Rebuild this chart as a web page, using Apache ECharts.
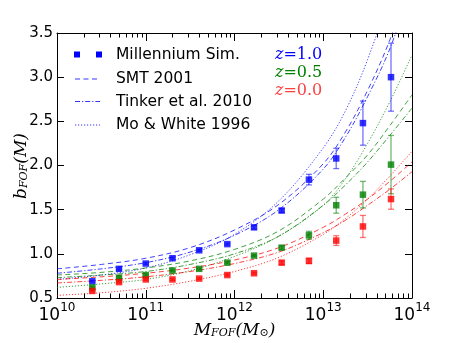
<!DOCTYPE html>
<html>
<head>
<meta charset="UTF-8">
<title>bias vs FOF mass</title>
<script src="https://cdn.jsdelivr.net/npm/echarts@6/dist/echarts.min.js"></script>
<style>
  html, body { margin: 0; padding: 0; background: #fff; }
  #chart { width: 458px; height: 343px; }
</style>
</head>
<body>
<div id="chart"></div>
<script>
// halo masses of the simulation points (M_sun)
var massPts = [2.5e10, 5e10, 1e11, 2e11, 4e11, 8.3e11, 1.66e12, 3.4e12, 6.9e12, 1.4e13, 2.8e13, 5.8e13];
// measured bias and error half-widths, per redshift
var simZ10 = [0.69, 0.83, 0.89, 0.95, 1.04, 1.11, 1.30, 1.49, 1.84, 2.08, 2.48, 3.00];
var errZ10 = [0.01, 0.01, 0.01, 0.01, 0.01, 0.01, 0.02, 0.02, 0.06, 0.115, 0.25, 0.385];
var simZ05 = [0.62, 0.73, 0.76, 0.81, 0.83, 0.90, 0.98, 1.07, 1.21, 1.55, 1.67, 2.01];
var errZ05 = [0.01, 0.01, 0.01, 0.01, 0.01, 0.01, 0.01, 0.02, 0.045, 0.09, 0.15, 0.33];
var simZ00 = [0.58, 0.68, 0.71, 0.71, 0.72, 0.76, 0.78, 0.90, 0.92, 1.15, 1.31, 1.62];
var errZ00 = [0.01, 0.01, 0.01, 0.01, 0.01, 0.01, 0.01, 0.02, 0.03, 0.055, 0.125, 0.115];

// model curves sampled on this mass grid
var massGrid = [1e10, 3.16e10, 1e11, 3.16e11, 1e12, 3.16e12, 1e13, 1.78e13, 3.16e13, 5.62e13, 1e14];
var smtZ10 = [0.83, 0.88, 0.95, 1.07, 1.27, 1.56, 2.02, 2.38, 2.85, 3.42, 4.15];
var tinZ10 = [0.78, 0.83, 0.90, 1.02, 1.21, 1.50, 1.96, 2.32, 2.78, 3.32, 4.05];
var mwZ10  = [0.71, 0.76, 0.84, 0.99, 1.22, 1.60, 2.20, 2.62, 3.20, 3.95, 4.90];
var smtZ05 = [0.76, 0.79, 0.84, 0.92, 1.05, 1.26, 1.62, 1.86, 2.12, 2.45, 2.80];
var tinZ05 = [0.73, 0.76, 0.80, 0.88, 1.00, 1.20, 1.55, 1.78, 2.04, 2.34, 2.65];
var mwZ05  = [0.62, 0.66, 0.71, 0.81, 0.97, 1.20, 1.55, 1.85, 2.25, 2.72, 3.25];
var smtZ00 = [0.71, 0.74, 0.78, 0.84, 0.93, 1.07, 1.30, 1.45, 1.62, 1.82, 2.04];
var tinZ00 = [0.67, 0.70, 0.74, 0.80, 0.89, 1.02, 1.24, 1.38, 1.55, 1.73, 1.93];
var mwZ00  = [0.53, 0.56, 0.61, 0.69, 0.80, 0.96, 1.22, 1.40, 1.62, 1.88, 2.16];

// minor log ticks (masses 2..9 x 10^d)
var minorX = [];
for (var d = 10; d < 14; d++) {
  for (var k = 2; k <= 9; k++) minorX.push(k * Math.pow(10, d));
}

var BLUE = '#0000ff', GREEN = '#008000', RED = '#ff0000';
var DASH = [5, 3.5], DASHDOT = [5, 2, 1.2, 2], DOT = [1.2, 1.8];

function pairs(xs, ys) {
  return xs.map(function (x, i) { return [x, ys[i]]; });
}
function errRows(ys, es) {
  return massPts.map(function (x, i) { return [x, ys[i] - es[i], ys[i] + es[i]]; });
}

function curve(ys, color, dash) {
  return {
    type: 'line', data: pairs(massGrid, ys), smooth: 0.35, showSymbol: false,
    lineStyle: { color: color, width: 1, type: dash, opacity: 0.75 },
    silent: true, z: 2
  };
}
function points(ys, color) {
  return {
    type: 'scatter', data: pairs(massPts, ys), symbol: 'rect', symbolSize: 6.5,
    itemStyle: { color: color }, z: 4
  };
}
function errBars(ys, es, color) {
  return {
    type: 'custom', data: errRows(ys, es), z: 3,
    encode: { x: 0, y: [1, 2] },
    renderItem: function (params, api) {
      var lo = api.coord([api.value(0), api.value(1)]);
      var hi = api.coord([api.value(0), api.value(2)]);
      var w = 3;
      var st = { stroke: color, lineWidth: 1.3, opacity: 0.55 };
      return {
        type: 'group', children: [
          { type: 'line', shape: { x1: lo[0], y1: lo[1], x2: hi[0], y2: hi[1] }, style: st },
          { type: 'line', shape: { x1: lo[0] - w, y1: lo[1], x2: lo[0] + w, y2: lo[1] }, style: st },
          { type: 'line', shape: { x1: hi[0] - w, y1: hi[1], x2: hi[0] + w, y2: hi[1] }, style: st }
        ]
      };
    }
  };
}

var chart = echarts.init(document.getElementById('chart'));

var axisLine = { show: true, onZero: false, lineStyle: { color: '#000', width: 1 } };
var xLabelRich = {
  b: { fontSize: 17, fontFamily: 'DejaVu Sans', color: '#000', verticalAlign: 'bottom', lineHeight: 22 },
  e: { fontSize: 12, fontFamily: 'DejaVu Sans', color: '#000', verticalAlign: 'top', lineHeight: 22 }
};

chart.setOption({
  animation: false,
  grid: { left: 57, right: 46, top: 33, bottom: 45 },
  xAxis: [
    {
      type: 'log', logBase: 10, min: 1e10, max: 1e14, position: 'bottom',
      axisLine: axisLine,
      axisTick: { show: true, inside: true, length: 8, lineStyle: { color: '#000' } },
      axisLabel: {
        margin: 4,
        formatter: function (v) { return '{b|10}{e|' + Math.round(Math.log10(v)) + '}'; },
        rich: xLabelRich
      },
      splitLine: { show: false }
    },
    {
      type: 'log', logBase: 10, min: 1e10, max: 1e14, position: 'top',
      axisLine: axisLine,
      axisTick: { show: true, inside: true, length: 8, lineStyle: { color: '#000' } },
      axisLabel: { show: false }, splitLine: { show: false }
    }
  ],
  yAxis: [
    {
      type: 'value', min: 0.5, max: 3.5, interval: 0.5, position: 'left',
      axisLine: axisLine,
      axisTick: { show: true, inside: true, length: 7, lineStyle: { color: '#000' } },
      axisLabel: {
        margin: 4, fontSize: 15, fontFamily: 'DejaVu Sans', color: '#000',
        formatter: function (v) { return v.toFixed(1); }
      },
      splitLine: { show: false }
    },
    {
      type: 'value', min: 0.5, max: 3.5, interval: 0.5, position: 'right',
      axisLine: axisLine,
      axisTick: { show: true, inside: true, length: 7, lineStyle: { color: '#000' } },
      axisLabel: { show: false }, splitLine: { show: false }
    }
  ],
  series: [
    curve(smtZ10, BLUE, DASH), curve(tinZ10, BLUE, DASHDOT), curve(mwZ10, BLUE, DOT),
    curve(smtZ05, GREEN, DASH), curve(tinZ05, GREEN, DASHDOT), curve(mwZ05, GREEN, DOT),
    curve(smtZ00, RED, DASH), curve(tinZ00, RED, DASHDOT), curve(mwZ00, RED, DOT),
    errBars(simZ10, errZ10, BLUE), errBars(simZ05, errZ05, GREEN), errBars(simZ00, errZ00, RED),
    points(simZ10, BLUE), points(simZ05, GREEN), points(simZ00, RED)
  ]
});

// minor log ticks on bottom and top frame, placed with the x axis scale
var ticks = [];
var yBot = chart.convertToPixel({ yAxisIndex: 0 }, 0.5);
var yTop = chart.convertToPixel({ yAxisIndex: 0 }, 3.5);
minorX.forEach(function (m) {
  var x = Math.round(chart.convertToPixel({ xAxisIndex: 0 }, m)) + 0.5;
  ticks.push({ type: 'line', z: 100, shape: { x1: x, y1: yBot, x2: x, y2: yBot - 4.5 }, style: { stroke: '#000', lineWidth: 1 } });
  ticks.push({ type: 'line', z: 100, shape: { x1: x, y1: yTop, x2: x, y2: yTop + 4.5 }, style: { stroke: '#000', lineWidth: 1 } });
});

var labels = [
  // legend
  { type: 'rect', shape: { x: 74, y: 51.5, width: 6, height: 6 }, style: { fill: BLUE } },
  { type: 'rect', shape: { x: 96, y: 51.5, width: 6, height: 6 }, style: { fill: BLUE } },
  { type: 'line', shape: { x1: 75, y1: 79, x2: 100, y2: 79 }, style: { stroke: BLUE, lineWidth: 1, lineDash: DASH, opacity: 0.8 } },
  { type: 'line', shape: { x1: 75, y1: 101.5, x2: 100, y2: 101.5 }, style: { stroke: BLUE, lineWidth: 1, lineDash: DASHDOT, opacity: 0.8 } },
  { type: 'line', shape: { x1: 75, y1: 125, x2: 100, y2: 125 }, style: { stroke: BLUE, lineWidth: 1, lineDash: DOT, opacity: 0.8 } },
  { type: 'text', x: 116, y: 55, style: { text: 'Millennium Sim.', font: '15.5px "DejaVu Sans"', fill: '#000', verticalAlign: 'middle' } },
  { type: 'text', x: 116, y: 79, style: { text: 'SMT 2001', font: '15.5px "DejaVu Sans"', fill: '#000', verticalAlign: 'middle' } },
  { type: 'text', x: 116, y: 101.5, style: { text: 'Tinker et al. 2010', font: '15.5px "DejaVu Sans"', fill: '#000', verticalAlign: 'middle' } },
  { type: 'text', x: 116, y: 125, style: { text: 'Mo & White 1996', font: '15.5px "DejaVu Sans"', fill: '#000', verticalAlign: 'middle' } },
  // redshift labels
  { type: 'text', x: 275, y: 55, style: { text: '{i|z}{n|=1.0}', verticalAlign: 'middle', rich: {
    i: { font: 'italic 16px "DejaVu Serif"', fill: BLUE }, n: { font: '16px "DejaVu Serif"', fill: BLUE } } } },
  { type: 'text', x: 275, y: 73, style: { text: '{i|z}{n|=0.5}', verticalAlign: 'middle', rich: {
    i: { font: 'italic 16px "DejaVu Serif"', fill: GREEN }, n: { font: '16px "DejaVu Serif"', fill: GREEN } } } },
  { type: 'text', x: 275, y: 91, style: { text: '{i|z}{n|=0.0}', verticalAlign: 'middle', rich: {
    i: { font: 'italic 16px "DejaVu Serif"', fill: '#ff4040' }, n: { font: '16px "DejaVu Serif"', fill: '#ff4040' } } } },
  // axis titles
  { type: 'text', x: 234.5, y: 328, style: {
    text: '{m|M}{s|FOF}{m|(}{n|M}{o|⊙}{m|)}', align: 'center', verticalAlign: 'middle', rich: {
      m: { font: 'italic 17px "DejaVu Serif"', fill: '#000', verticalAlign: 'bottom', lineHeight: 22 },
      n: { font: 'italic 17px "DejaVu Serif"', fill: '#000', verticalAlign: 'bottom', lineHeight: 22 },
      s: { font: 'italic 11px "DejaVu Serif"', fill: '#000', verticalAlign: 'bottom', lineHeight: 18 },
      o: { font: '11px "DejaVu Serif"', fill: '#000', verticalAlign: 'bottom', lineHeight: 18 }
    } } },
  { type: 'text', x: 19, y: 166, rotation: Math.PI / 2, style: {
    text: '{m|b}{s|FOF}{m|(M)}', align: 'center', verticalAlign: 'middle', rich: {
      m: { font: 'italic 17px "DejaVu Serif"', fill: '#000', verticalAlign: 'bottom', lineHeight: 22 },
      s: { font: 'italic 11px "DejaVu Serif"', fill: '#000', verticalAlign: 'bottom', lineHeight: 18 }
    } } }
];

chart.setOption({ graphic: labels.concat(ticks) });
</script>
</body>
</html>
